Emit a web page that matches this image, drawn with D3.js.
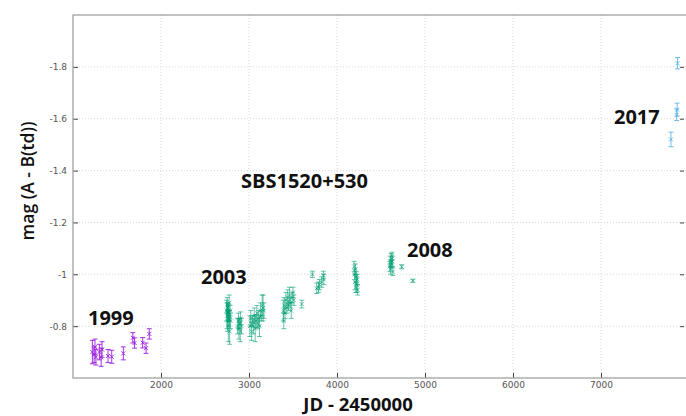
<!DOCTYPE html>
<html><head><meta charset="utf-8">
<script src="https://cdn.jsdelivr.net/npm/d3@7/dist/d3.min.js"></script>
<style>body{margin:0;background:#fff}svg{display:block}</style>
</head><body>
<svg id="c" width="686" height="416"></svg>
<script>
// [JD-2450000, mag, err]
const s1999 = [[1220,-0.70,0.045],[1240,-0.69,0.03],[1250,-0.72,0.03],[1260,-0.68,0.03],[1300,-0.70,0.03],[1320,-0.68,0.035],[1330,-0.71,0.03],
 [1398,-0.685,0.025],[1440,-0.682,0.025],[1572,-0.695,0.025],[1680,-0.755,0.02],[1700,-0.735,0.02],[1792,-0.736,0.02],[1830,-0.715,0.02],[1867,-0.77,0.02]];
const s2003 = [[2745,-0.86,0.04],[2750,-0.84,0.05],[2752,-0.88,0.03],[2755,-0.82,0.04],[2760,-0.87,0.02],[2762,-0.85,0.03],[2765,-0.80,0.06],[2768,-0.86,0.025],[2772,-0.83,0.03],[2775,-0.89,0.03],[2778,-0.84,0.02],[2780,-0.78,0.05],[2785,-0.86,0.02],[2790,-0.82,0.03],
 [2870,-0.80,0.03],[2880,-0.82,0.03],[2885,-0.79,0.04],[2895,-0.81,0.02],[2900,-0.78,0.04],[2905,-0.83,0.025],[2915,-0.80,0.03],
 [3010,-0.80,0.04],[3020,-0.83,0.03],[3030,-0.78,0.035],[3040,-0.82,0.02],[3050,-0.80,0.03],[3060,-0.84,0.03],[3070,-0.79,0.05],[3080,-0.82,0.025],[3090,-0.85,0.03],[3100,-0.81,0.02],[3110,-0.83,0.03],[3120,-0.80,0.04],[3130,-0.86,0.03],[3140,-0.84,0.02],[3150,-0.88,0.04],[3160,-0.87,0.05],[3170,-0.86,0.03],
 [3390,-0.86,0.04],[3395,-0.82,0.03],[3400,-0.88,0.03],[3410,-0.85,0.02],[3420,-0.90,0.03],[3430,-0.87,0.02],[3440,-0.91,0.03],[3450,-0.88,0.02],[3460,-0.92,0.03],[3470,-0.89,0.02],[3480,-0.86,0.03],[3490,-0.91,0.02],[3500,-0.93,0.02],[3510,-0.90,0.02],
 [3600,-0.885,0.015],
 [3720,-1.0,0.012],[3770,-0.946,0.02],[3790,-0.95,0.02],[3800,-0.96,0.02],[3826,-0.97,0.02],[3845,-0.997,0.015],[3850,-0.98,0.02],
 [4195,-1.03,0.02],[4200,-1.00,0.02],[4205,-0.97,0.03],[4210,-1.02,0.02],[4215,-0.95,0.02],[4220,-0.99,0.02],[4225,-0.96,0.03],[4230,-0.98,0.02],[4235,-0.94,0.02],
 [4600,-1.03,0.02],[4605,-1.05,0.02],[4610,-1.02,0.02],[4615,-1.06,0.02],[4620,-1.04,0.015],[4625,-1.07,0.015],[4630,-1.05,0.02],[4635,-1.01,0.015],
 [4735,-1.029,0.008],[4862,-0.975,0.006]];
const s2017 = [[7795,-1.52,0.028],[7860,-1.615,0.022],[7865,-1.635,0.025],[7870,-1.814,0.022]];
const xTicks = [2000,3000,4000,5000,6000,7000];
const yTicks = [-1.8,-1.6,-1.4,-1.2,-1.0,-0.8];
const yTickLabels = ["-1.8","-1.6","-1.4","-1.2","-1","-0.8"];
const annotations = ["1999","2003","2008","2017","SBS1520+530"];

const svg = d3.select("#c");
const L=73,T=15,R=689,B=378;
const x = d3.scaleLinear().domain([1000,8000]).range([L,R]);
const y = d3.scaleLinear().domain([-2.0,-0.6]).range([T,B]);

// grid
const g = svg.append("g");
g.selectAll(".vg").data(xTicks).enter().append("line")
 .attr("x1",d=>x(d)).attr("x2",d=>x(d)).attr("y1",T).attr("y2",B)
 .attr("stroke","#d8d8d8").attr("stroke-dasharray","1,2");
g.selectAll(".hg").data(yTicks).enter().append("line")
 .attr("x1",L).attr("x2",R).attr("y1",d=>y(d)).attr("y2",d=>y(d))
 .attr("stroke","#d8d8d8").attr("stroke-dasharray","1,2");

// axes
const ax = svg.append("g").attr("transform",`translate(0,${B})`)
 .call(d3.axisBottom(x).tickValues(xTicks).tickSize(-5).tickPadding(4).tickFormat(d3.format("d")));
const ay = svg.append("g").attr("transform",`translate(${L},0)`)
 .call(d3.axisLeft(y).tickValues(yTicks).tickSize(-5).tickPadding(6).tickFormat((d,i)=>yTickLabels[i]));
const ay2 = svg.append("g").attr("transform",`translate(${684},0)`)
 .call(d3.axisRight(y).tickValues(yTicks).tickSize(-4).tickFormat(""));
[ax,ay,ay2].forEach(a=>{
  a.select(".domain").remove();
  a.selectAll(".tick line").attr("stroke","#444");
  a.selectAll("text").attr("fill","#555").style("font-family","DejaVu Sans, sans-serif").style("font-size","9px");
});
svg.append("rect").attr("x",L).attr("y",T).attr("width",R-L).attr("height",B-T)
 .attr("fill","none").attr("stroke","#999").attr("stroke-width",1.2);

function series(data,color,op){
  const gg = svg.append("g").attr("stroke",color).attr("stroke-opacity",op).attr("fill","none").attr("stroke-width",1);
  const p = gg.selectAll("g").data(data).enter().append("g");
  p.append("line").attr("x1",d=>x(d[0])).attr("x2",d=>x(d[0])).attr("y1",d=>y(d[1]-d[2])).attr("y2",d=>y(d[1]+d[2]));
  p.append("line").attr("x1",d=>x(d[0])-2.5).attr("x2",d=>x(d[0])+2.5).attr("y1",d=>y(d[1]-d[2])).attr("y2",d=>y(d[1]-d[2]));
  p.append("line").attr("x1",d=>x(d[0])-2.5).attr("x2",d=>x(d[0])+2.5).attr("y1",d=>y(d[1]+d[2])).attr("y2",d=>y(d[1]+d[2]));
  p.append("path").attr("d",d=>{const cx=x(d[0]),cy=y(d[1]);return `M${cx-2},${cy-2}L${cx+2},${cy+2}M${cx-2},${cy+2}L${cx+2},${cy-2}`;});
}
series(s1999,"#9b1fe0",0.9);
series(s2003,"#009e73",0.6);
series(s2017,"#56b4e9",0.85);

// labels
const pos = [[88,325],[201,284],[407,257],[614,124],[241,188]];
svg.selectAll(".lab").data(annotations).enter().append("text")
 .attr("x",(d,i)=>pos[i][0]).attr("y",(d,i)=>pos[i][1]).text(d=>d)
 .style("font-family","Open Sans, sans-serif").style("font-weight","700").style("font-size","20px").attr("fill","#111");

svg.append("text").attr("x",358).attr("y",410.5).attr("text-anchor","middle").text("JD - 2450000")
 .style("font-family","Open Sans, sans-serif").style("font-weight","700").style("font-size","18.5px").attr("fill","#111");
svg.append("text").attr("transform","translate(34,181) rotate(-90)").attr("text-anchor","middle").text("mag (A - B(td))")
 .style("font-family","Open Sans, sans-serif").style("font-weight","600").style("font-size","17.5px").attr("fill","#111");
</script>
</body></html>
